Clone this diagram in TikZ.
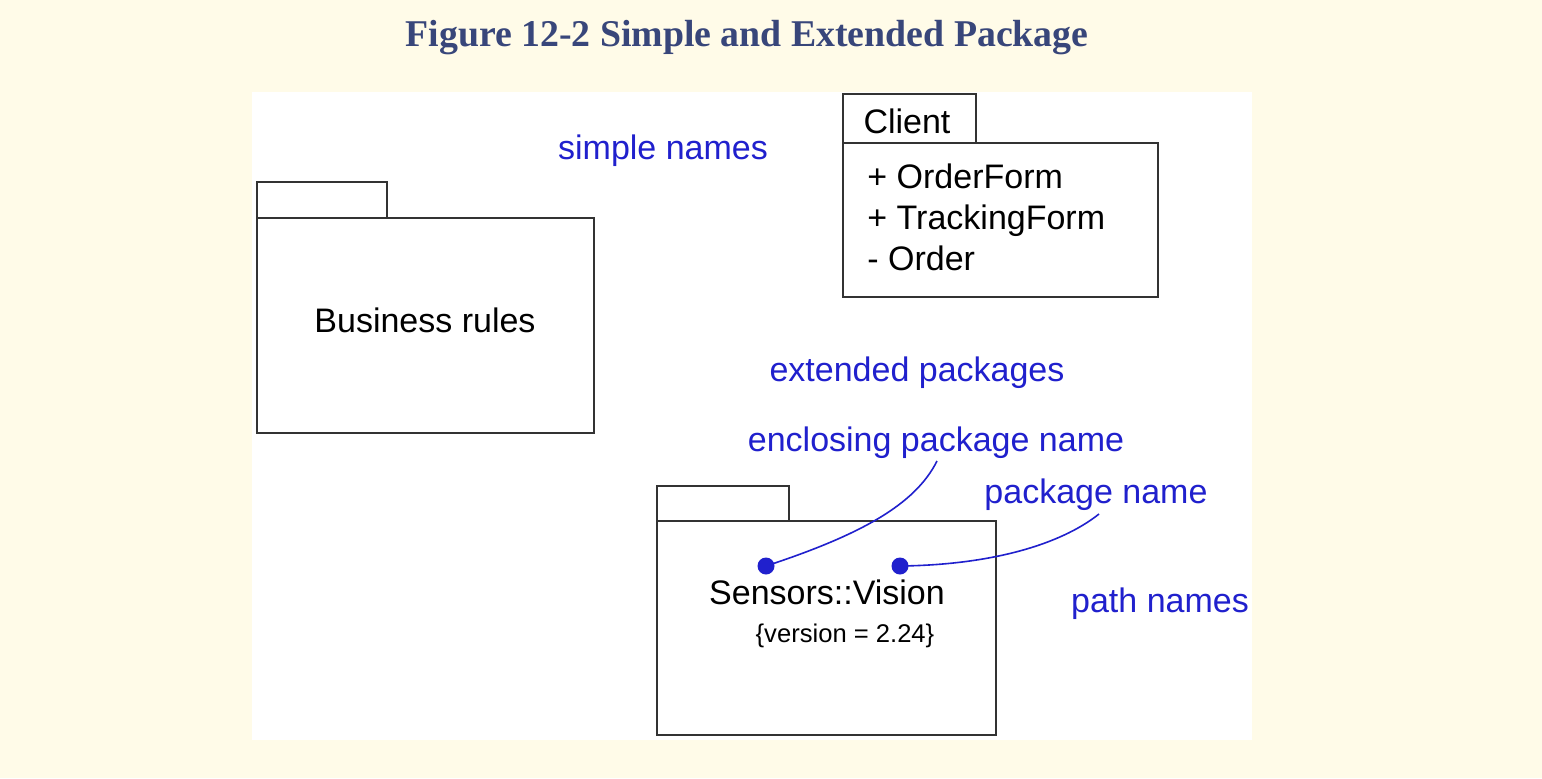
\documentclass[tikz,border=0pt]{standalone}
\usepackage{fontspec}
\setmainfont{Liberation Sans}
\newfontfamily\titlefont{Liberation Serif}
\definecolor{cream}{HTML}{FFFBE8}
\definecolor{titleblue}{HTML}{38467A}
\definecolor{noteblue}{RGB}{32,32,205}
\definecolor{linegray}{HTML}{333333}
\tikzset{
  pkg/.style={draw=linegray, line width=1.1pt, fill=white},
  lbl/.style={font=\fontsize{17}{20}\selectfont, text=black, inner sep=0pt},
  note/.style={font=\fontsize{17}{20}\selectfont, text=noteblue, inner sep=0pt},
  small/.style={font=\fontsize{12.8}{15}\selectfont, text=black, inner sep=0pt},
  pin/.style={circle, fill=noteblue, inner sep=0pt, minimum size=8.5pt},
  lead/.style={draw=noteblue, line width=0.8pt}
}
\begin{document}
\begin{tikzpicture}[x=0.5pt, y=-0.5pt]
\useasboundingbox (0,0) rectangle (1542,778);
\fill[cream] (0,0) rectangle (1542,778);
\fill[white] (252,92) rectangle (1252,740);
\node[font=\titlefont\bfseries\fontsize{18.9}{22}\selectfont, text=titleblue, inner sep=0pt, anchor=base] (title) at (747,46) {Figure 12-2 Simple and Extended Package};
% Business rules package
\draw[pkg] (257,182) rectangle (387,218);
\draw[pkg] (257,218) rectangle (594,433);
\node[lbl] (br) at (425,320) {Business rules};
% Client package
\draw[pkg] (843,94) rectangle (976,143);
\draw[pkg] (843,143) rectangle (1158,297);
\node[lbl] (client) at (907,121) {Client};
\node[lbl, anchor=base west] (i1) at (867,188) {+ OrderForm};
\node[lbl, anchor=base west] (i2) at (867,229) {+ TrackingForm};
\node[lbl, anchor=base west] (i3) at (867,270) {- Order};
% Sensors package
\draw[pkg] (657,486) rectangle (789,521);
\draw[pkg] (657,521) rectangle (996,735);
\node[lbl] (sv) at (827,592) {Sensors::Vision};
\node[small] (ver) at (845,636) {\{version = 2.24\}};
% notes
\node[note] (simple) at (663,151) {simple names};
\node[note] (ext) at (917,373) {extended packages};
\node[note] (encl) at (936,443) {enclosing package name};
\node[note] (pname) at (1096,495) {package name};
\node[note] (path) at (1160,604) {path names};
% pins and leaders
\node[pin] (p1) at (766,566) {};
\node[pin] (p2) at (900,566) {};
\coordinate (e1) at (937,461);
\coordinate (e2) at (1099,514);
\draw[lead] (p1.center) .. controls (860,535) and (915,505) .. (e1);
\draw[lead] (p2.center) .. controls (990,565) and (1060,545) .. (e2);
\end{tikzpicture}
\end{document}
